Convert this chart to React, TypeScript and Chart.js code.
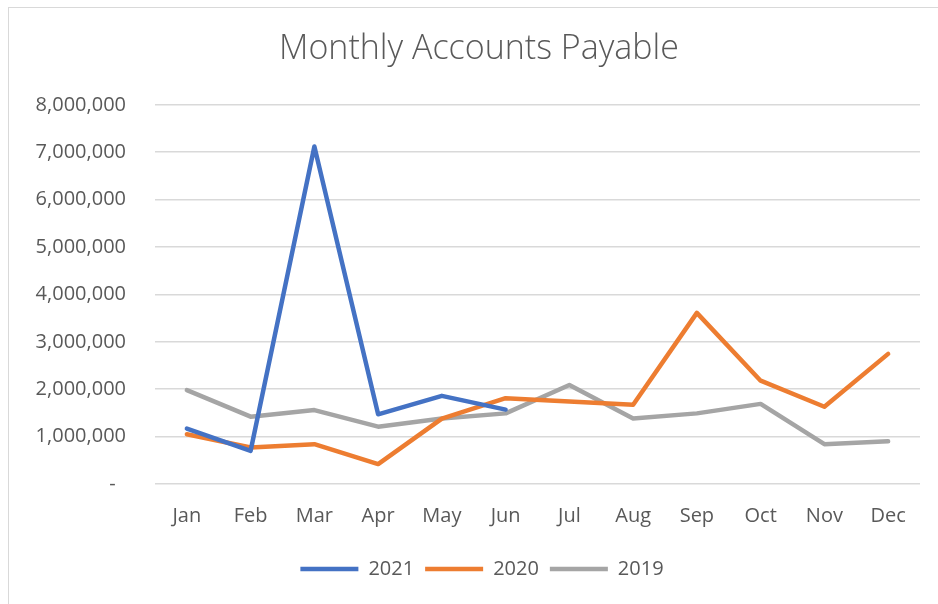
import React, { useEffect, useRef } from "react";
import { Chart, registerables } from "chart.js";

Chart.register(...registerables);

const months = ["Jan", "Feb", "Mar", "Apr", "May", "Jun", "Jul", "Aug", "Sep", "Oct", "Nov", "Dec"];
const values2021 = [1170000, 700000, 7120000, 1470000, 1860000, 1570000, null, null, null, null, null, null];
const values2020 = [1050000, 770000, 840000, 420000, 1380000, 1810000, 1740000, 1670000, 3610000, 2180000, 1630000, 2745000];
const values2019 = [1980000, 1420000, 1560000, 1210000, 1380000, 1490000, 2090000, 1380000, 1490000, 1690000, 840000, 900000];
const chartTitle = "Monthly Accounts Payable";

const FONT = "'Open Sans', 'DejaVu Sans', sans-serif";
const TEXT = "#595959";

const shiftBlocks = {
  id: "shiftBlocks",
  afterLayout(chart: any) {
    const t = chart.titleBlock;
    if (t) {
      t.left += 19;
      t.right += 19;
    }
    const l = chart.legend;
    if (l) {
      l.left += 22;
      l.right += 22;
      if (l.legendHitBoxes) l.legendHitBoxes.forEach((b: any) => (b.left += 22));
    }
  },
};

export default function App() {
  const ref = useRef<HTMLCanvasElement | null>(null);
  useEffect(() => {
    if (!ref.current) return;
    const mk = (label: string, data: (number | null)[], color: string) => ({
      label,
      data,
      borderColor: color,
      backgroundColor: color,
      borderWidth: 4.5,
      borderCapStyle: "round" as const,
      borderJoinStyle: "round" as const,
      pointRadius: 0,
      pointHoverRadius: 0,
      pointStyle: "line" as const,
      tension: 0,
      spanGaps: false,
    });
    const chart = new Chart(ref.current, {
      type: "line",
      data: {
        labels: months,
        datasets: [
          mk("2021", values2021, "#4472C4"),
          mk("2020", values2020, "#ED7D31"),
          mk("2019", values2019, "#A5A5A5"),
        ],
      },
      plugins: [shiftBlocks],
      options: {
        animation: false,
        responsive: false,
        maintainAspectRatio: false,
        layout: { padding: { left: 0, right: 18, top: 0, bottom: 15 } },
        plugins: {
          title: {
            display: true,
            text: chartTitle,
            color: TEXT,
            font: { family: FONT, size: 34, weight: "300" as any },
            padding: { top: 29, bottom: 35 },
          },
          legend: {
            position: "bottom",
            labels: {
              usePointStyle: true,
              pointStyleWidth: 58,
              color: TEXT,
              font: { family: FONT, size: 20 },
              padding: 11,
            },
          },
          tooltip: { enabled: false },
        },
        scales: {
          x: {
            offset: true,
            grid: { display: false, drawTicks: false },
            border: { display: false },
            ticks: { color: TEXT, font: { family: FONT, size: 20 }, padding: 20 },
          },
          y: {
            min: 0,
            max: 8000000,
            afterFit: (scale: any) => {
              scale.width = 155;
            },
            grid: { color: "#d9d9d9", lineWidth: 1.5, drawTicks: false },
            border: { display: false },
            ticks: {
              stepSize: 1000000,
              color: TEXT,
              font: { family: FONT, size: 20 },
              padding: 29,
              callback: (v: any) => (Number(v) === 0 ? "-  " : Number(v).toLocaleString("en-US")),
            },
          },
        },
      },
    });
    return () => chart.destroy();
  }, []);
  return (
    <div style={{ position: "absolute", left: 0, top: 0, width: 938, height: 604, background: "#fff", overflow: "hidden" }}>
      <div
        style={{
          position: "absolute",
          left: 8,
          top: 7,
          width: 960,
          height: 640,
          borderLeft: "1px solid #d9d9d9",
          borderTop: "1px solid #d9d9d9",
        }}
      />
      <canvas ref={ref} width={938} height={604} style={{ position: "absolute", left: 0, top: 0 }} />
    </div>
  );
}
